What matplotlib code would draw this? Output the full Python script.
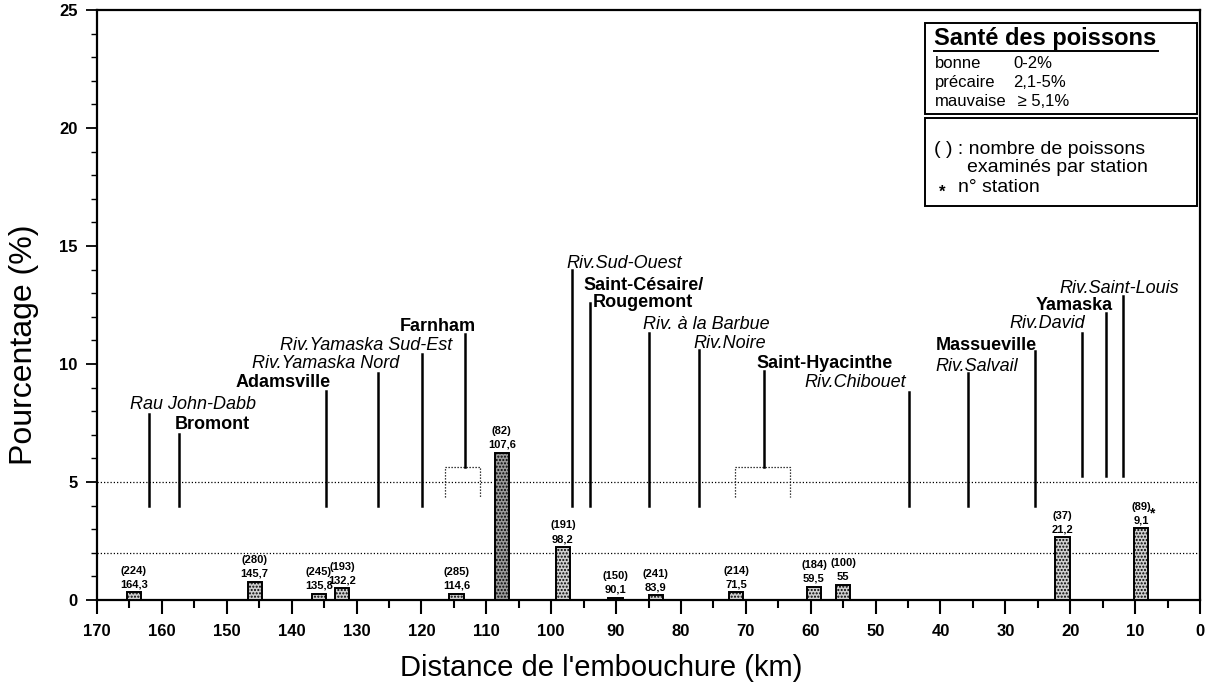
import numpy as np
import matplotlib
matplotlib.use('agg')
import matplotlib.pyplot as plt
from matplotlib.patches import Rectangle
from matplotlib.ticker import MultipleLocator

plt.rcParams['font.family'] = ['Liberation Sans', 'DejaVu Sans']

# bars: distance from mouth (km), % of fish with anomalies, number of fish examined
bar_km = [164.3, 145.7, 135.8, 132.2, 114.6, 107.6, 98.2, 90.1, 83.9, 71.5, 59.5, 55.0, 21.2, 9.1]
bar_pct = [0.32, 0.78, 0.27, 0.49, 0.27, 6.25, 2.24, 0.10, 0.20, 0.33, 0.57, 0.64, 2.66, 3.04]
bar_n = [224, 280, 245, 193, 285, 82, 191, 150, 241, 214, 184, 100, 37, 89]

# stations / tributaries shown as vertical markers
st_names = ["Rau John-Dabb", "Bromont", "Adamsville", "Riv.Yamaska Nord", "Riv.Yamaska Sud-Est",
            "Farnham", "Riv.Sud-Ouest", "Saint-Césaire/\nRougemont", "Riv. à la Barbue", "Riv.Noire",
            "Saint-Hyacinthe", "Riv.Chibouet", "Riv.Salvail", "Massueville", "Riv.David",
            "Yamaska", "Riv.Saint-Louis"]
st_km = [162.0, 157.4, 134.7, 126.7, 119.9, 113.3, 96.8, 94.0, 84.9, 77.2, 67.2, 44.85, 35.75, 25.4, 18.2, 14.5, 11.9]
st_top = [7.9, 7.05, 8.87, 9.63, 10.43, 11.28, 14.0, 12.6, 11.3, 10.6, 9.7, 8.8, 9.6, 10.55, 11.3, 12.15, 12.9]
st_bot = [4.0, 4.0, 4.0, 4.0, 4.0, 5.65, 4.0, 4.0, 4.0, 4.0, 5.65, 4.0, 4.0, 4.0, 5.27, 5.27, 5.27]
st_town = [False, True, True, False, False, True, False, True, False, False, True, False, False, True, False, True, False]

# label anchor (left edge km, y) for each station name
lab_pos = [(164.9, 8.28), (158.0, 7.43), (148.7, 9.2), (146.1, 10.0), (141.8, 10.8),
           (123.3, 11.6), (97.7, 14.27), (95.1, 12.96), (85.8, 11.66), (78.1, 10.85),
           (68.3, 10.0), (61.0, 9.2), (40.7, 9.88), (40.7, 10.8), (29.3, 11.7),
           (25.3, 12.5), (21.6, 13.2)]

# dotted brackets (km left, km right)
brackets = [(116.4, 111.0), (71.7, 63.2)]

W, H = 1208, 692
fig = plt.figure(figsize=(W / 100, H / 100), dpi=100)
ax = fig.add_axes([97 / W, 1 - 600 / H, (1200 - 97) / W, (600 - 10) / H])

ax.set_xlim(170, 0)
ax.set_ylim(0, 25)

# threshold lines
for yv in (2, 5):
    ax.axhline(yv, color='black', lw=0.9, ls=(0, (1, 1.6)), zorder=1)

# bars
for km, p, n in zip(bar_km, bar_pct, bar_n):
    fc = '#9a9a9a' if p > 5 else '#cfcfcf'
    ax.bar(km, p, width=2.2, facecolor=fc, edgecolor='black', hatch='.....', lw=1.4, zorder=3)
    lbl = ('%g' % km).replace('.', ',')
    ax.annotate(lbl, (km, p), xytext=(0, 2), textcoords='offset points', ha='center', va='bottom',
                fontsize=8, fontweight='bold', zorder=4)
    ax.annotate('(%d)' % n, (km, p), xytext=(0, 12), textcoords='offset points', ha='center', va='bottom',
                fontsize=8, fontweight='bold', zorder=4)
ax.annotate('*', (bar_km[-1], bar_pct[-1]), xytext=(8, 11), textcoords='offset points', ha='center',
            va='center', fontsize=10, fontweight='bold')

# station markers
for name, km, top, bot, town, (lx, ly) in zip(st_names, st_km, st_top, st_bot, st_town, lab_pos):
    ax.plot([km, km], [bot, top], color='black', lw=1.8, zorder=2)
    if town:
        ax.text(lx, ly, name, ha='left', va='center', fontsize=13, fontweight='bold',
                linespacing=1.05, multialignment='center')
    else:
        ax.text(lx, ly, name, ha='left', va='center', fontsize=13, style='italic')

for x0, x1 in brackets:
    ax.plot([x0, x0, x1, x1], [4.35, 5.65, 5.65, 4.35], color='black', lw=0.9, ls=(0, (1, 1.4)), zorder=2)

# axes styling
for s in ax.spines.values():
    s.set_linewidth(1.6)
ax.xaxis.set_major_locator(MultipleLocator(10))
ax.xaxis.set_minor_locator(MultipleLocator(5))
ax.yaxis.set_major_locator(MultipleLocator(5))
ax.yaxis.set_minor_locator(MultipleLocator(1))
ax.tick_params(axis='x', which='major', direction='out', length=10, width=1.5, pad=7, labelsize=12)
ax.tick_params(axis='x', which='minor', direction='out', length=6, width=1.5)
ax.tick_params(axis='y', which='major', direction='out', length=8, width=1.3, pad=6, labelsize=12)
ax.tick_params(axis='y', which='minor', direction='out', length=4, width=1.0)
for t in ax.get_xticklabels() + ax.get_yticklabels():
    t.set_fontweight('bold')
ax.set_xlabel("Distance de l'embouchure (km)", fontsize=21)
ax.xaxis.set_label_coords(0.457, -(668 - 600) / 590, transform=ax.transAxes)
ax.xaxis.label.set_va('center')
ax.set_ylabel("Pourcentage (%)", fontsize=23)
ax.yaxis.set_label_coords(-(97 - 24) / 1103, 0.432, transform=ax.transAxes)
ax.yaxis.label.set_va('center')


def fx(px):
    return px / W


def fy(py):
    return 1 - py / H


# legend boxes
fig.add_artist(Rectangle((fx(925), fy(114)), fx(1197) - fx(925), fy(23) - fy(114),
                         transform=fig.transFigure, fill=False, lw=1.4, ec='black'))
fig.add_artist(Rectangle((fx(925), fy(206)), fx(1197) - fx(925), fy(118) - fy(206),
                         transform=fig.transFigure, fill=False, lw=1.4, ec='black'))

fig.text(fx(934), fy(39), "Santé des poissons", fontsize=17, fontweight='bold', va='center', ha='left')
fig.add_artist(plt.Line2D([fx(934), fx(1158)], [fy(51), fy(51)], transform=fig.transFigure, color='black', lw=1.4))
health = ["bonne", "précaire", "mauvaise"]
ranges = ["0-2%", "2,1-5%", " \u2265 5,1%"]
for i, (h, r) in enumerate(zip(health, ranges)):
    fig.text(fx(935), fy(64 + i * 18.5), h, fontsize=12, va='center', ha='left')
    fig.text(fx(1013), fy(64 + i * 18.5), r, fontsize=12, va='center', ha='left')

fig.text(fx(934), fy(150), "( ) : nombre de poissons", fontsize=14, va='center', ha='left')
fig.text(fx(967), fy(168), "examinés par station", fontsize=14, va='center', ha='left')
fig.text(fx(942), fy(192), "*", fontsize=12, fontweight='bold', va='center', ha='center')
fig.text(fx(958), fy(188), "n° station", fontsize=14, va='center', ha='left')

fig.savefig('out.png', dpi=100, facecolor='white')
